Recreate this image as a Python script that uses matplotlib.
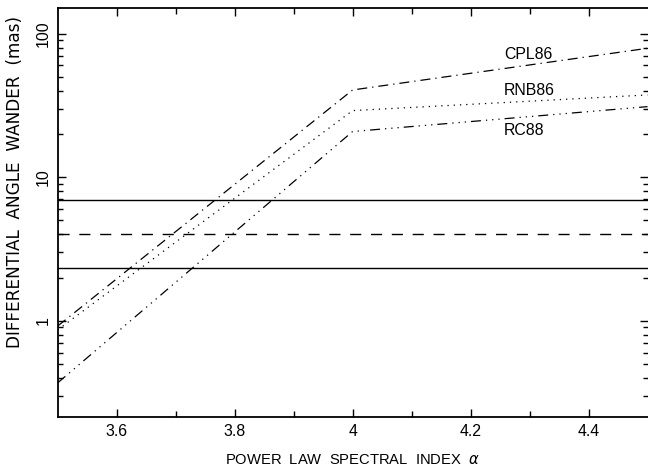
import matplotlib
matplotlib.use("Agg")
import matplotlib.pyplot as plt
from matplotlib.ticker import LogLocator, FixedLocator, NullFormatter

plt.rcParams['font.family'] = ['Liberation Sans', 'DejaVu Sans']

alpha = [3.5, 4.0, 4.5]
cpl86 = [0.92, 40.5, 79.0]
rnb86 = [0.865, 29.1, 37.4]
rc88 = [0.37, 20.8, 31.0]
labels = ["CPL86", "RNB86", "RC88"]
label_x = 4.257
label_y = [72, 40, 21]
hline_solid = [6.9, 2.33]
hline_dashed = [4.0]
xticks = [3.6, 3.8, 4.0, 4.2, 4.4]
xticklabels = ["3.6", "3.8", "4", "4.2", "4.4"]

fig = plt.figure(figsize=(6.48, 4.71), dpi=100)
ax = fig.add_axes([57.7/648, 1-416.7/471, (647.5-57.7)/648, (416.7-8.3)/471])

lw = 0.9
ax.plot(alpha, cpl86, color='black', lw=lw, linestyle=(0, (8, 4, 1, 4)))
ax.plot(alpha, rnb86, color='black', lw=lw, linestyle=(0, (1, 4)))
ax.plot(alpha, rc88, color='black', lw=lw, linestyle=(0, (8, 4, 1, 4, 1, 4, 1, 4)))
for v in hline_solid:
    ax.axhline(v, color='black', lw=1.0)
for v in hline_dashed:
    ax.axhline(v, color='black', lw=1.0, linestyle=(0, (8, 7)))

fs = 11.4
for lab, y in zip(labels, label_y):
    ax.text(label_x, y, lab, fontsize=fs, ha='left', va='center')

ax.set_yscale('log')
ax.set_xlim(3.5, 4.5)
ax.set_ylim(0.215, 150)
ax.xaxis.set_major_locator(FixedLocator(xticks))
ax.set_xticklabels(xticklabels)
ax.xaxis.set_minor_locator(FixedLocator([3.7, 3.9, 4.1, 4.3]))
ax.yaxis.set_major_locator(FixedLocator([1, 10, 100]))
ax.set_yticklabels(["1", "10", "100"], rotation=90, va='center')
ax.yaxis.set_minor_locator(LogLocator(base=10, subs=range(2, 10)))
ax.yaxis.set_minor_formatter(NullFormatter())

ax.tick_params(which='both', direction='in', top=True, right=True, labelsize=fs, width=1.0)
ax.tick_params(which='major', length=5.8, pad=5)
ax.tick_params(axis='x', which='minor', length=4.5)
ax.tick_params(axis='y', which='minor', length=3.5)
for s in ['left', 'top', 'bottom']:
    ax.spines[s].set_linewidth(1.3)
ax.spines['right'].set_visible(False)

ax.set_xlabel("POWER  LAW  SPECTRAL  INDEX  $\\alpha$", fontsize=10.6, labelpad=10)
ax.set_ylabel("DIFFERENTIAL  ANGLE  WANDER  (mas)", fontsize=12.2, va='center',
              family=['DejaVu Sans'])
ax.yaxis.set_label_coords(-0.072, 0.575)

fig.savefig("out.png", dpi=100)
